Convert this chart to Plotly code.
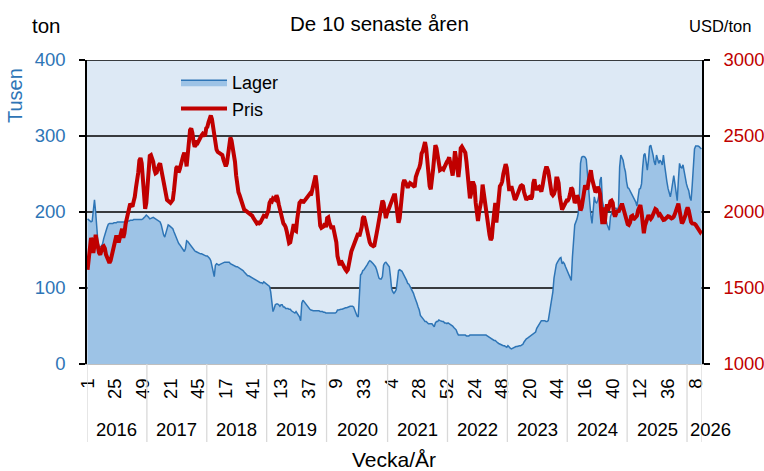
import plotly.graph_objects as go

# ---------------- DATA ----------------
years = [2016, 2017, 2018, 2019, 2020, 2021, 2022, 2023, 2024, 2025, 2026]

lager_2016 = [191,190,188,187,188,200,216,200,175,160, 155,154,155,158,165,172,175,180,184,185,
              185,185,185,186,186,186,187,187,187,187, 187,187,187,188,188,188,188,189,189,189,
              190,190,190,190,190,190,190,190,191,192, 194,196]
lager_2017 = [195,193,191,192,193,193,192,191,190,190, 189,187,183,176,170,167,172,180,183,182,
              181,180,178,174,170,165,161,159,157,155, 153,150,148,152,162,161,159,157,155,152,
              150,149,148,147,146,146,145,145,144,144, 143,142]
lager_2018 = [142,141,139,136,128,119,115,130,132,131, 130,131,132,132,133,134,134,134,134,134,
              132,131,130,130,129,128,128,127,126,126, 125,123,121,119,118,116,116,115,114,113,
              113,111,110,110,108,108,107,107,106,108, 107,105]
lager_2019 = [105,104,102,95,80,69,73,78,79,79, 78,76,78,78,75,75,73,73,73,72,
              72,70,69,67,67,69,67,64,62,57, 80,84,82,79,78,76,74,72,71,70,
              70,70,70,70,70,70,69,69,69,68, 68,67]
lager_2020 = [67,67,67,67,67,67,67,67,68,71, 71,72,72,72,73,73,74,74,75,75,
              76,76,76,75,71,67,63,62,95,117, 119,123,124,126,129,131,134,136,135,134,
              132,130,128,124,117,113,112,112,115,130, 133,134,132]
lager_2021 = [130,128,115,99,95,93,95,98,110,123, 124,123,122,119,115,113,110,106,105,102,
              99,97,93,88,85,80,75,71,64,61, 60,58,56,56,54,53,53,53,53,51,
              49,54,56,56,58,57,56,56,56,54, 54,53]
lager_2022 = [54,53,53,51,50,48,46,45,41,38, 38,38,38,38,38,38,37,37,37,38,
              38,38,38,38,38,38,38,38,38,38, 38,38,38,38,37,36,35,34,32,32,
              31,31,29,28,27,26,25,25,24,24, 23,22]
lager_2023 = [24,22,21,20,21,22,23,23,23,24, 24,24,25,26,29,32,33,34,35,36,
              37,38,39,41,42,47,50,53,56,57, 57,57,57,56,56,57,67,78,84,95,
              113,124,131,134,137,139,140,132,134,132, 128,124]
lager_2024 = [121,117,113,110,141,172,183,187,191,198, 220,264,272,273,273,272,269,251,226,213,
              196,185,202,220,213,212,215,222,242,246, 215,205,198,191,184,178,176,194,200,202,
              203,205,205,202,207,259,275,272,268,259, 253,240]
lager_2025 = [232,231,228,225,223,221,218,213,208,224, 230,231,237,259,275,277,266,255,268,286,
              288,283,275,266,262,275,270,264,268,266, 262,275,262,246,240,231,224,220,228,237,
              248,237,224,215,242,264,259,258,262,253, 245,237]
lager_2026 = [232,228,219,215,235,259,283,287,287,287,286,285,283]

pris_2016 = [1620,1690,1790,1830,1800,1730,1780,1850,1810,1760, 1730,1720,1750,1770,1775,1760,1720,1700,1680,1665,
             1680,1710,1740,1790,1820,1845,1820,1800,1830,1870, 1890,1830,1860,1920,1950,1985,2030,2055,2045,2035,
             2070,2100,2160,2200,2260,2340,2355,2320,2200,2080, 2020,2060]
pris_2017 = [2160,2300,2370,2375,2350,2330,2280,2255,2260,2300, 2310,2320,2290,2240,2200,2170,2120,2080,2070,2065,
             2060,2070,2080,2140,2260,2290,2300,2260,2280,2320, 2350,2370,2390,2360,2300,2380,2450,2540,2550,2520,
             2460,2430,2440,2470,2460,2480,2495,2505,2515,2510, 2500,2550]
pris_2018 = [2560,2590,2620,2635,2610,2560,2500,2450,2410,2395, 2390,2385,2380,2375,2345,2310,2300,2320,2380,2440,
             2490,2470,2420,2390,2330,2240,2160,2130,2110,2080, 2050,2030,2015,2010,2005,2000,1995,1990,1985,1975,
             1960,1945,1930,1925,1930,1925,1930,1940,1960,1975, 1975,1970]
pris_2019 = [1990,2010,2060,2075,2070,2090,2085,2080,2110,2090, 2050,2010,1975,1945,1925,1915,1900,1870,1820,1795,
             1800,1840,1880,1920,1880,1875,1950,2040,2060,2070, 2080,2060,2070,2080,2085,2090,2100,2120,2110,2150,
             2180,2230,2240,2180,2070,1990,1910,1895,1900,1905, 1925,1900]
pris_2020 = [1960,1965,1930,1900,1890,1910,1880,1850,1800,1710, 1670,1650,1680,1660,1640,1635,1620,1610,1620,1650,
             1700,1740,1760,1780,1800,1820,1840,1860,1840,1870, 1900,1960,1970,1940,1900,1860,1830,1800,1785,1775,
             1775,1780,1810,1860,1900,1950,2000,2050,2075,2060, 2010,1960,1990]
pris_2021 = [2020,2030,2050,2070,2080,2110,2110,2060,1990,1930, 1960,2050,2110,2190,2210,2200,2180,2160,2185,2190,
             2185,2180,2170,2165,2230,2260,2275,2290,2320,2385, 2400,2430,2460,2420,2330,2240,2170,2150,2200,2280,
             2360,2440,2420,2370,2300,2275,2280,2285,2280,2300, 2310,2330]
pris_2022 = [2340,2360,2320,2250,2240,2310,2400,2350,2280,2230, 2300,2420,2430,2420,2400,2390,2330,2250,2110,2090,
             2120,2190,2190,2170,2060,1960,1940,2000,2040,2080, 2180,2120,2060,1980,1930,1900,1850,1815,1830,1920,
             2030,2060,1930,2010,2100,2170,2180,2200,2250,2300, 2315,2290]
pris_2023 = [2190,2150,2150,2170,2140,2100,2080,2090,2110,2130, 2160,2170,2175,2170,2130,2100,2080,2090,2100,2100,
             2085,2100,2190,2215,2160,2145,2160,2165,2150,2135, 2170,2230,2260,2290,2290,2270,2200,2150,2120,2110,
             2120,2145,2220,2220,2190,2100,2040,2015,2030,2050, 2060,2075]
pris_2024 = [2075,2090,2120,2160,2150,2080,2060,2070,2110,2090, 2030,2010,2030,2080,2140,2175,2160,2150,2200,2260,
             2275,2220,2185,2175,2130,2140,2165,2150,2120,2000, 1920,2030,1920,2000,2050,2010,2050,2070,2075,2060,
             1990,1970,1990,2010,2000,2020,2040,2055,2030,2005, 1970,1940]
pris_2025 = [1920,1915,1930,1970,1975,1950,1960,1970,1975,2010, 2040,2045,2000,1880,1860,1910,1940,1970,1980,1965,
             1955,1965,1985,2000,2020,2015,1995,1980,1985,1975, 1960,1948,1950,1958,1965,1972,1970,1965,1958,1962,
             1970,1988,2010,2035,2055,2010,1960,1925,1935,1950, 1975,2010]
pris_2026 = [2030,2010,1960,1935,1925,1925,1922,1915,1900,1885,1870,1868,1880]

week_tick_labels = ["1", "25", "49", "21", "45", "17", "41", "13", "37", "9", "33", "4",
                    "28", "52", "24", "48", "20", "44", "16", "40", "12", "36", "8"]
left_ticks = [0, 100, 200, 300, 400]
right_ticks = [1000, 1500, 2000, 2500, 3000]

lager_by_year = [lager_2016, lager_2017, lager_2018, lager_2019, lager_2020, lager_2021,
                 lager_2022, lager_2023, lager_2024, lager_2025, lager_2026]
pris_by_year = [pris_2016, pris_2017, pris_2018, pris_2019, pris_2020, pris_2021,
                pris_2022, pris_2023, pris_2024, pris_2025, pris_2026]

# ---------------- BUILD SERIES ----------------
lager, pris, weeks, year_start = [], [], [], []
for yr, lv, pv in zip(years, lager_by_year, pris_by_year):
    assert len(lv) == len(pv)
    year_start.append(len(lager))
    lager += lv
    pris += pv
    weeks += list(range(1, len(lv) + 1))
N = len(lager)
idx = list(range(N))
tickvals = list(range(0, N, 24))
assert len(tickvals) == len(week_tick_labels)

# ---------------- LAYOUT GEOMETRY ----------------
FIG_W, FIG_H = 764, 471
PL, PR, PT, PB = 87, 702, 60, 364
W, H = PR - PL, PB - PT
def pxx(x): return (x - PL) / W
def pyy(y): return (PB - y) / H

FONT = "Liberation Sans, Arial, sans-serif"
BLUE_TXT = "#2E75B6"
RED = "#C00000"

fig = go.Figure()
fig.add_trace(go.Scatter(
    x=idx, y=lager, name="Lager", mode="lines", fill="tozeroy",
    fillcolor="#9DC3E6", line=dict(color="#2E75B6", width=1.5),
    hoverinfo="skip"))
fig.add_trace(go.Scatter(
    x=idx, y=pris, name="Pris", mode="lines", yaxis="y2",
    line=dict(color=RED, width=4), hoverinfo="skip"))

shapes = []
for v in left_ticks[1:]:
    shapes.append(dict(type="line", xref="paper", yref="y", x0=0, x1=1, y0=v, y1=v,
                       line=dict(color="#000000", width=1.5), layer="below"))
# year separators on the category axis
bounds = year_start + [N]
for b in bounds:
    shapes.append(dict(type="line", xref="x", yref="paper", x0=b - 0.5, x1=b - 0.5,
                       y0=0, y1=pyy(442), line=dict(color="#D9D9D9", width=1.3)))

annotations = [
    dict(text="De 10 senaste åren", x=pxx(379), y=pyy(24), font=dict(size=20.5, color="black")),
    dict(text="ton", x=pxx(47), y=pyy(25), font=dict(size=20.5, color="black")),
    dict(text="Tusen", x=pxx(15), y=pyy(96), textangle=-90, font=dict(size=20, color=BLUE_TXT)),
    dict(text="USD/ton", x=pxx(720), y=pyy(26), font=dict(size=16.5, color="black")),
    dict(text="Vecka/År", x=pxx(394), y=pyy(459), font=dict(size=21, color="black")),
]
for k, yr in enumerate(years):
    s, e = bounds[k], bounds[k + 1]
    mid = (s + e - 1) / 2
    shift = 16 if k == len(years) - 1 else 0
    annotations.append(dict(text=str(yr), xref="x", x=mid, y=pyy(429), xshift=shift,
                            font=dict(size=18.5, color="black")))
for a in annotations:
    a.setdefault("xref", "paper")
    a.setdefault("yref", "paper")
    a.setdefault("showarrow", False)
    a.setdefault("xanchor", "center")
    a.setdefault("yanchor", "middle")

fig.update_layout(
    width=FIG_W, height=FIG_H,
    margin=dict(l=PL, r=FIG_W - PR, t=PT, b=FIG_H - PB, pad=0, autoexpand=False),
    paper_bgcolor="white", plot_bgcolor="#DDE9F5",
    font=dict(family=FONT, size=18, color="black"),
    showlegend=True,
    legend=dict(x=pxx(176), y=pyy(64), xanchor="left", yanchor="top",
                bgcolor="rgba(0,0,0,0)", font=dict(size=18), itemwidth=46,
                tracegroupgap=4),
    xaxis=dict(range=[-0.5, N - 0.5], tickvals=tickvals, ticktext=week_tick_labels,
               tickangle=-90, ticks="", showgrid=False, zeroline=False, automargin=False,
               showline=True, linecolor="#BFBFBF", linewidth=1,
               tickfont=dict(size=18.5, color="black"), ticklabelstandoff=6),
    yaxis=dict(range=[0, 400], tickvals=left_ticks, showgrid=False, zeroline=False,
               automargin=False,
               showline=True, linecolor="black", linewidth=1.5,
               ticks="outside", ticklen=6, tickcolor="black", tickwidth=1.5,
               tickfont=dict(size=18.5, color=BLUE_TXT), ticklabelstandoff=10),
    yaxis2=dict(range=[1000, 3000], tickvals=right_ticks, overlaying="y", side="right",
                automargin=False,
                showgrid=False, zeroline=False, showline=True, linecolor="black", linewidth=1.5,
                ticks="outside", ticklen=6, tickcolor="black", tickwidth=1.5,
                tickfont=dict(size=18.5, color=RED), ticklabelstandoff=10),
    shapes=shapes, annotations=annotations,
)

fig.write_html("out.html", config=dict(displayModeBar=False),
               post_script="document.body.style.margin='0';document.body.style.overflow='hidden';")
